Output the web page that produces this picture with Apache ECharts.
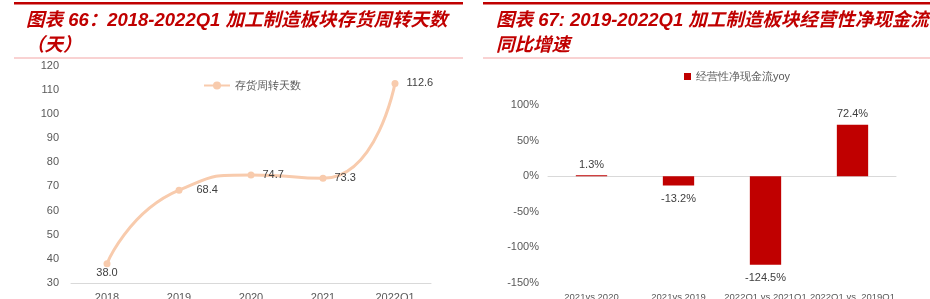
<!DOCTYPE html>
<html><head><meta charset="utf-8">
<script src="https://cdn.jsdelivr.net/npm/echarts@6/dist/echarts.min.js"></script>
<style>html,body{margin:0;padding:0;background:#fff}#c{width:930px;height:299px}</style>
</head><body><div id="c"></div>
<script>
var leftTitle1 = '图表 66：2018-2022Q1 加工制造板块存货周转天数';
var leftTitle2 = '（天）';
var rightTitle1 = '图表 67: 2019-2022Q1 加工制造板块经营性净现金流';
var rightTitle2 = '同比增速';
var leftCategories = ['2018', '2019', '2020', '2021', '2022Q1'];
var leftValues = [38.0, 68.4, 74.7, 73.3, 112.6];
var leftSeriesName = '存货周转天数';
var rightCategories = ['2021vs 2020', '2021vs 2019', '2022Q1 vs 2021Q1', '2022Q1 vs. 2019Q1'];
var rightValues = [1.3, -13.2, -124.5, 72.4];
var rightSeriesName = '经营性净现金流yoy';

var chart = echarts.init(document.getElementById('c'), null, {renderer: 'canvas'});
var red = '#C00000';
var peach = '#F8CBAD';
var axisLabel = {color: '#595959', fontSize: 11, fontFamily: 'Liberation Sans, Arial, sans-serif'};
var titleStyle = {fill: red, font: 'italic bold 18.5px "Liberation Sans", "Noto Sans CJK SC", sans-serif'};

chart.setOption({
  animation: false,
  graphic: [
    {type: 'rect', shape: {x: 14, y: 2, width: 449, height: 2.5}, style: {fill: red}},
    {type: 'rect', shape: {x: 14, y: 57.5, width: 449, height: 1}, style: {fill: '#F4A6A6'}},
    {type: 'rect', shape: {x: 483, y: 2, width: 447, height: 2.5}, style: {fill: red}},
    {type: 'rect', shape: {x: 483, y: 57.5, width: 447, height: 1}, style: {fill: '#F4A6A6'}},
    {type: 'text', left: 26, top: 12, style: Object.assign({text: leftTitle1}, titleStyle)},
    {type: 'text', left: 26, top: 37, style: Object.assign({text: leftTitle2}, titleStyle)},
    {type: 'text', left: 496, top: 12, style: Object.assign({text: rightTitle1}, titleStyle)},
    {type: 'text', left: 496, top: 37, style: Object.assign({text: rightTitle2}, titleStyle)}
  ],
  legend: [
    {data: [{name: leftSeriesName}], left: 198, top: 75, itemWidth: 26, itemHeight: 10, itemGap: 2,
     textStyle: {color: '#595959', fontSize: 11}},
    {data: [{name: rightSeriesName, icon: 'rect'}], left: 679, top: 66, itemWidth: 7, itemHeight: 7, itemGap: 3,
     textStyle: {color: '#595959', fontSize: 11}}
  ],
  grid: [
    {left: 71, right: 499, top: 65.5, bottom: 16, outerBoundsMode: 'none', containLabel: false},
    {left: 548, right: 34, top: 105, bottom: 16, outerBoundsMode: 'none', containLabel: false}
  ],
  xAxis: [
    {type: 'category', gridIndex: 0, data: leftCategories, boundaryGap: true,
     axisLine: {lineStyle: {color: '#D9D9D9'}}, axisTick: {show: false},
     axisLabel: Object.assign({margin: 9, interval: 0}, axisLabel)},
    {type: 'category', gridIndex: 1, data: rightCategories, boundaryGap: true,
     axisLine: {onZero: true, lineStyle: {color: '#D9D9D9'}}, axisTick: {show: false},
     position: 'bottom',
     axisLabel: Object.assign({}, axisLabel, {margin: 9, interval: 0, hideOverlap: false, fontSize: 9.5})}
  ],
  yAxis: [
    {type: 'value', gridIndex: 0, min: 30, max: 120, interval: 10,
     axisLine: {show: false}, axisTick: {show: false}, splitLine: {show: false},
     axisLabel: Object.assign({margin: 12}, axisLabel)},
    {type: 'value', gridIndex: 1, min: -150, max: 100, interval: 50,
     axisLine: {show: false}, axisTick: {show: false}, splitLine: {show: false},
     axisLabel: Object.assign({margin: 9, formatter: '{value}%'}, axisLabel)}
  ],
  series: [
    {name: leftSeriesName, type: 'line', xAxisIndex: 0, yAxisIndex: 0,
     smooth: 0.6, symbol: 'circle', symbolSize: 7,
     lineStyle: {color: peach, width: 3}, itemStyle: {color: peach},
     label: {show: true, color: '#404040', fontSize: 11,
       formatter: function (p) { return p.value.toFixed(1); },
       position: 'right', distance: 8},
     data: leftValues.map(function (v, i) {
       if (i === 0) return {value: v, label: {position: 'bottom', distance: 0}};
       if (i === 1) return {value: v, label: {position: 'right', distance: 14}};
       return {value: v};
     })
    },
    {name: rightSeriesName, type: 'bar', xAxisIndex: 1, yAxisIndex: 1,
     barWidth: '36%', itemStyle: {color: red},
     label: {show: true, color: '#404040', fontSize: 11,
       formatter: function (p) { return p.value.toFixed(1) + '%'; }},
     data: rightValues.map(function (v) {
       return {value: v, label: {position: v >= 0 ? 'top' : 'bottom', distance: v >= 0 ? 5 : 8}};
     })
    }
  ]
});
</script></body></html>
